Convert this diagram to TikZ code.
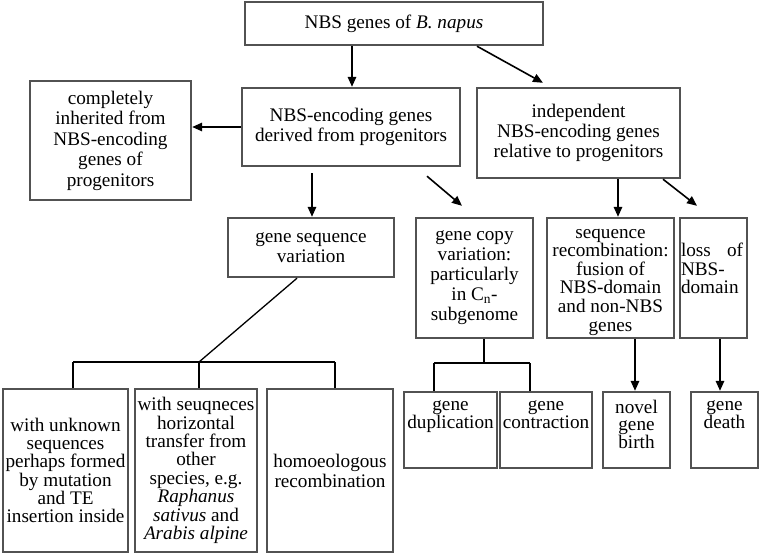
\documentclass[tikz,border=0pt]{standalone}
\usepackage{fontspec}
\setmainfont{Liberation Serif}
\usetikzlibrary{arrows.meta,calc}
\begin{document}
\begin{tikzpicture}[x=1pt,y=-1pt,
  box/.style={draw=black!68, line width=2.4pt, rectangle, inner sep=0pt, align=center,
     font=\fontsize{19.2}{20}\selectfont},
  txt/.style={inner sep=0pt, align=center, font=\fontsize{19.2}{20}\selectfont},
  arr/.style={draw=black, line width=1.6pt, -{Triangle[length=10pt,width=8.5pt]}},
  ln/.style={draw=black, line width=1.3pt}]
\useasboundingbox[fill=white] (0,0) rectangle (760,554);

\node[box, minimum width=298, minimum height=43] (top) at (394,23.5) {NBS genes of \textit{B. napus}};
\node[box, minimum width=218, minimum height=78] (enc) at (351,127) {NBS-encoding genes\\derived from progenitors};
\node[box, minimum width=161, minimum height=119, font=\fontsize{19.2}{20.5}\selectfont] (inh) at (110.5,140.5) {completely\\inherited from\\NBS-encoding\\genes of\\progenitors};
\node[box, minimum width=203, minimum height=90] (ind) at (578.5,133) {independent\\NBS-encoding genes\\relative to progenitors};
\node[box, minimum width=166, minimum height=59] (gsv) at (311,247.5) {gene sequence\\variation};
\node[box, minimum width=117, minimum height=120] (gcv) at (474.5,278) {gene copy\\variation:\\particularly\\in C\textsubscript{n}-\\subgenome};
\node[box, minimum width=127, minimum height=120] (sr) at (610.5,278) {};
\node[txt, font=\fontsize{19.2}{18.6}\selectfont] (srt) at (610.5,282) {sequence\\recombination:\\fusion of\\NBS-domain\\and non-NBS\\genes};
\node[box, minimum width=67, minimum height=120] (loss) at (713.5,278) {};
\node[txt, anchor=north west, text width=62pt, align=left, font=\fontsize{19.2}{18.5}\selectfont] (losst) at ($(loss.north west)+(2,26)$) {loss\hfill of\\NBS-\\domain};

\node[box, minimum width=125, minimum height=163, font=\fontsize{19.2}{18.2}\selectfont] (b1) at (65.5,470.5) {with unknown\\sequences\\perhaps formed\\by mutation\\and TE\\insertion inside};
\node[box, minimum width=122, minimum height=163, font=\fontsize{19.2}{18.4}\selectfont] (b2) at (196,470.5) {with seuqneces\\horizontal\\transfer from\\other\\species, e.g.\\\textit{Raphanus}\\\textit{sativus} and\\\textit{Arabis alpine}};
\node[box, minimum width=126, minimum height=163] (b3) at (330,470.5) {homoeologous\\recombination};

\node[box, minimum width=93, minimum height=76] (dup) at (450.5,430) {};
\node[box, minimum width=92, minimum height=76] (con) at (546,430) {};
\node[box, minimum width=67, minimum height=76] (nov) at (636.5,430) {};
\node[box, minimum width=67, minimum height=76] (dth) at (724.5,430) {};
\node[txt, anchor=north, font=\fontsize{19.2}{17.5}\selectfont] (dupt) at ($(dup.north)+(0,10)$) {gene\\duplication};
\node[txt, anchor=north, font=\fontsize{19.2}{17.5}\selectfont] (cont) at ($(con.north)+(0,10)$) {gene\\contraction};
\node[txt, anchor=north, font=\fontsize{19.2}{17.5}\selectfont] (novt) at ($(nov.north)+(0,9)$) {novel\\gene\\birth};
\node[txt, anchor=north, font=\fontsize{19.2}{17.5}\selectfont] (dtht) at ($(dth.north)+(0,10)$) {gene\\death};

% arrows
\draw[arr] ($(top.south -| enc.north)+(1,0)$) -- ($(enc.north)+(1,0)$);
\draw[arr] ($(top.south)+(83,0)$) -- ($(ind.north)+(-35.5,-4)$);
\draw[arr] (enc.west) -- (inh.east |- enc.west);
\draw[arr] ($(gsv.north |- enc.south)+(1,6)$) -- ($(gsv.north)+(1,0)$);
\draw[arr] ($(enc.south)+(76,9)$) -- ($(gcv.north)+(-12.5,-11)$);
\draw[arr] ($(ind.south)+(39.5,0)$) -- ($(sr.north)+(7.5,0)$);
\draw[arr] ($(ind.south)+(84.5,0)$) -- ($(loss.north)+(-16.5,-11)$);
\draw[arr] ($(sr.south)+(24.5,0)$) -- ($(nov.north)+(-1.5,0)$);
\draw[arr] ($(loss.south)+(6.5,0)$) -- ($(dth.north)+(-4.5,0)$);

% tree under gene sequence variation
\coordinate (j1) at (199,362);
\coordinate (h1) at (73,362);
\coordinate (h3) at (335,362);
\draw[ln] ($(gsv.south)+(-14,0)$) -- (j1);
\draw[ln] (h1) -- (h3);
\draw[ln] (h1) -- (h1 |- b1.north);
\draw[ln] (j1) -- (j1 |- b2.north);
\draw[ln] (h3) -- (h3 |- b3.north);

% tree under gene copy variation
\coordinate (j2) at (484,363);
\coordinate (k1) at (434,363);
\coordinate (k2) at (530,363);
\draw[ln] ($(gcv.south)+(9.5,0)$) -- (j2);
\draw[ln] (k1) -- (k2);
\draw[ln] (k1) -- (k1 |- dup.north);
\draw[ln] (k2) -- (k2 |- con.north);
\end{tikzpicture}
\end{document}
